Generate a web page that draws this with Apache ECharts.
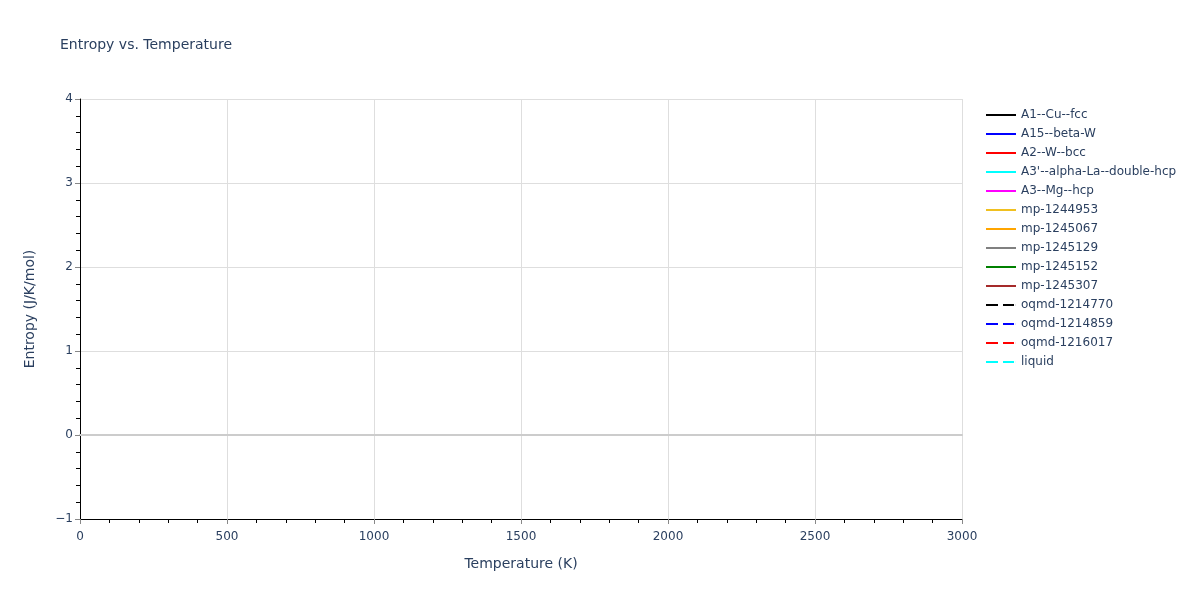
<!DOCTYPE html>
<html>
<head>
<meta charset="utf-8">
<title>Entropy vs. Temperature</title>
<script src="https://cdn.jsdelivr.net/npm/echarts@6/dist/echarts.min.js"></script>
<style>
  html, body { margin: 0; padding: 0; background: #fff; }
  #chart { width: 1200px; height: 600px; }
</style>
</head>
<body>
<div id="chart"></div>
<script>
// phases shown in the legend (no curves are drawn in the source figure)
const phaseNames = [
  'A1--Cu--fcc', 'A15--beta-W', 'A2--W--bcc', "A3'--alpha-La--double-hcp",
  'A3--Mg--hcp', 'mp-1244953', 'mp-1245067', 'mp-1245129', 'mp-1245152',
  'mp-1245307', 'oqmd-1214770', 'oqmd-1214859', 'oqmd-1216017', 'liquid'
];
const phaseColors = [
  '#000000', '#0000ff', '#ff0000', '#00ffff', '#ff00ff', '#f0c020', '#ffa500',
  '#808080', '#008000', '#a52a2a', '#000000', '#0000ff', '#ff0000', '#00ffff'
];
const phaseDashed = [
  false, false, false, false, false, false, false, false, false, false,
  true, true, true, true
];
// temperature / entropy pairs per phase: empty in the reference
const entropyData = phaseNames.map(() => []);

const xTicks = [0, 500, 1000, 1500, 2000, 2500, 3000];
const yTicks = [-1, 0, 1, 2, 3, 4];

const font = 'DejaVu Sans, Verdana, sans-serif';
const ink = '#2a3f5f';

// legend glyphs: a plain stroke or a two-dash stroke
const solidIcon = 'path://M0,0H30V2H0Z';
const dashIcon = 'path://M0,0H12V2H0ZM17,0H28V2H17ZM29.9,0H30V2H29.9Z';

const chart = echarts.init(document.getElementById('chart'));

const series = phaseNames.map((name, i) => ({
  name: name,
  type: 'line',
  data: entropyData[i],
  symbol: 'none',
  showSymbol: false,
  lineStyle: {
    color: phaseColors[i],
    width: 2,
    type: phaseDashed[i] ? [9, 8] : 'solid'
  },
  itemStyle: { color: phaseColors[i] }
}));

const tickText = v => (v < 0 ? '\u2212' + Math.abs(v) : String(v));

chart.setOption({
  animation: false,
  backgroundColor: '#fff',
  textStyle: { fontFamily: font },
  title: {
    text: 'Entropy vs. Temperature',
    left: 60, top: 38, padding: 0,
    textStyle: { fontFamily: font, fontSize: 14, fontWeight: 'normal', color: ink }
  },
  legend: {
    orient: 'vertical',
    left: 986, top: 108, padding: 0,
    itemWidth: 30, itemHeight: 14, itemGap: 5,
    symbolKeepAspect: true,
    textStyle: { fontFamily: font, fontSize: 12, color: ink, lineHeight: 14 },
    data: phaseNames.map((n, i) => ({
      name: n,
      icon: phaseDashed[i] ? dashIcon : solidIcon,
      itemStyle: { color: phaseColors[i], borderWidth: 0 }
    }))
  },
  grid: { left: 80, right: 238, top: 99, bottom: 81, containLabel: false },
  xAxis: [{
    type: 'value',
    min: xTicks[0], max: xTicks[xTicks.length - 1], interval: 500,
    name: 'Temperature (K)',
    nameLocation: 'middle', nameGap: 38,
    nameTextStyle: { fontFamily: font, fontSize: 14, color: ink },
    axisLine: { show: true, onZero: false, lineStyle: { color: '#000', width: 1 } },
    axisTick: { show: true, length: 5, lineStyle: { color: '#888' } },
    minorTick: { show: true, splitNumber: 5, length: 4, lineStyle: { color: '#000' } },
    axisLabel: { fontFamily: font, fontSize: 12, color: ink, margin: 12, formatter: tickText },
    splitLine: { show: true, lineStyle: { color: '#dedede', width: 1 } }
  }, {
    // zero line
    type: 'value',
    min: xTicks[0], max: xTicks[xTicks.length - 1],
    axisLine: { show: true, onZero: true, lineStyle: { color: '#cccccc', width: 2 } },
    axisTick: { show: false },
    axisLabel: { show: false },
    splitLine: { show: false }
  }],
  yAxis: {
    type: 'value',
    min: yTicks[0], max: yTicks[yTicks.length - 1], interval: 1,
    name: 'Entropy (J/K/mol)',
    nameLocation: 'middle', nameGap: 43,
    nameTextStyle: { fontFamily: font, fontSize: 14, color: ink },
    axisLine: { show: true, lineStyle: { color: '#000', width: 1 } },
    axisTick: { show: true, length: 5, lineStyle: { color: '#888' } },
    minorTick: { show: true, splitNumber: 5, length: 4, lineStyle: { color: '#000' } },
    axisLabel: { fontFamily: font, fontSize: 12, color: ink, margin: 7, formatter: tickText },
    splitLine: { show: true, lineStyle: { color: '#dedede', width: 1 } }
  },
  series: series
});
</script>
</body>
</html>
